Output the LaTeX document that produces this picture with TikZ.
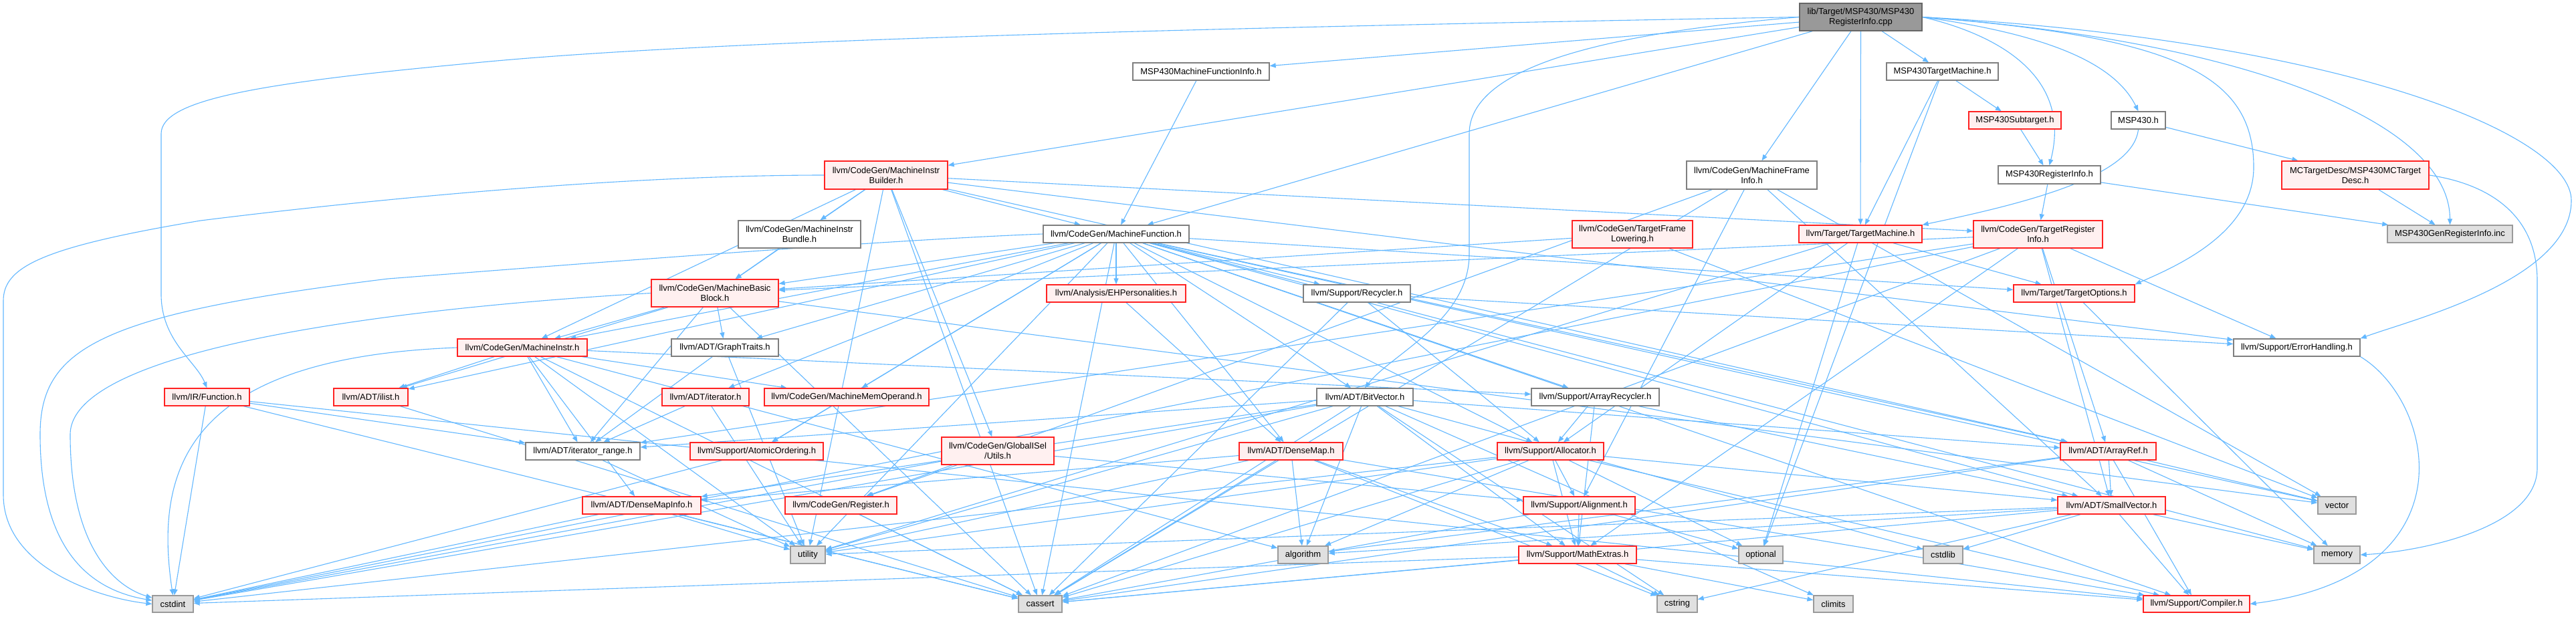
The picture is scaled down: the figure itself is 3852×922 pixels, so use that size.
\documentclass[tikz,border=0pt]{standalone}
\usepackage{fontspec}
\setmainfont{Liberation Sans}
\usetikzlibrary{arrows.meta}
\definecolor{eb}{HTML}{63B8FF}
\definecolor{redb}{HTML}{FF2222}
\definecolor{redf}{HTML}{FFF0F0}
\definecolor{grayb}{HTML}{7F7F7F}
\definecolor{sysb}{HTML}{9A9A9A}
\definecolor{sysf}{HTML}{E0E0E0}
\definecolor{rootb}{HTML}{666666}
\definecolor{rootf}{HTML}{999999}
\pgfdeclarelayer{back}
\pgfdeclarelayer{bg}
\pgfsetlayers{back,bg,main}
\newcommand\mknode[7]{\node[#1, minimum width=#5pt, minimum height=#6pt] (#2) at (#3,#4) {#7};}
\begin{document}
\begin{tikzpicture}[x=1pt,y=-1pt,
  nb/.style={draw, align=center, inner sep=0pt, font=\fontsize{13}{15}\selectfont, line width=1.3pt},
  rn/.style={nb, draw=redb, fill=redf},
  wn/.style={nb, draw=grayb, fill=white},
  sn/.style={nb, draw=sysb, fill=sysf},
  rootn/.style={nb, draw=rootb, fill=rootf},
  dep/.style={draw=eb, line width=1.1pt, -{Triangle[length=9pt,width=7pt]}},
]
\begin{pgfonlayer}{back}
\fill[white] (0,0) rectangle (3852,922);
\end{pgfonlayer}
\useasboundingbox (0,0) rectangle (3852,922);
% nodes
\mknode{rootn}{R}{2782.5}{25.5}{183}{41}{lib/Target/MSP430/MSP430\\RegisterInfo.cpp}
\mknode{wn}{MFI}{1796}{107}{204}{26}{MSP430MachineFunctionInfo.h}
\mknode{wn}{MTM}{2904.5}{107}{167}{26}{MSP430TargetMachine.h}
\mknode{rn}{MSub}{3013}{180}{138}{26}{MSP430Subtarget.h}
\mknode{wn}{M430}{3197.5}{180}{81}{26}{MSP430.h}
\mknode{rn}{MIB}{1325}{262}{184}{42}{llvm/CodeGen/MachineInstr\\Builder.h}
\mknode{wn}{MFrI}{2619.5}{262}{195}{42}{llvm/CodeGen/MachineFrame\\Info.h}
\mknode{wn}{MRI}{3064.5}{261.5}{153}{27}{MSP430RegisterInfo.h}
\mknode{rn}{MCTD}{3522}{262}{220}{42}{MCTargetDesc/MSP430MCTarget\\Desc.h}
\mknode{wn}{MIBun}{1195.5}{350.5}{183}{41}{llvm/CodeGen/MachineInstr\\Bundle.h}
\mknode{wn}{MF}{1669}{350}{218}{26}{llvm/CodeGen/MachineFunction.h}
\mknode{rn}{TFL}{2441}{350.5}{180}{41}{llvm/CodeGen/TargetFrame\\Lowering.h}
\mknode{rn}{TM}{2782}{350}{184}{26}{llvm/Target/TargetMachine.h}
\mknode{rn}{TRI}{3047.5}{350.5}{193}{41}{llvm/CodeGen/TargetRegister\\Info.h}
\mknode{sn}{Gen}{3663.5}{350}{187}{26}{MSP430GenRegisterInfo.inc}
\mknode{rn}{MBB}{1069}{438.5}{190}{41}{llvm/CodeGen/MachineBasic\\Block.h}
\mknode{rn}{EHP}{1669}{439}{208}{26}{llvm/Analysis/EHPersonalities.h}
\mknode{wn}{Rec}{2029}{439}{160}{26}{llvm/Support/Recycler.h}
\mknode{rn}{TO}{3101.5}{439}{181}{26}{llvm/Target/TargetOptions.h}
\mknode{rn}{MI}{781}{520}{194}{26}{llvm/CodeGen/MachineInstr.h}
\mknode{wn}{GT}{1084}{520}{160}{26}{llvm/ADT/GraphTraits.h}
\mknode{wn}{EH}{3434.5}{520}{189}{26}{llvm/Support/ErrorHandling.h}
\mknode{rn}{IRF}{309.5}{594}{127}{26}{llvm/IR/Function.h}
\mknode{rn}{IL}{554.5}{594}{111}{26}{llvm/ADT/ilist.h}
\mknode{rn}{It}{1055}{594}{130}{26}{llvm/ADT/iterator.h}
\mknode{rn}{MMO}{1266}{594}{246}{26}{llvm/CodeGen/MachineMemOperand.h}
\mknode{wn}{BV}{2041}{594}{144}{26}{llvm/ADT/BitVector.h}
\mknode{wn}{AR}{2385.5}{594}{191}{26}{llvm/Support/ArrayRecycler.h}
\mknode{wn}{IR}{871.5}{675}{171}{26}{llvm/ADT/iterator\_range.h}
\mknode{rn}{AO}{1131.5}{675}{199}{26}{llvm/Support/AtomicOrdering.h}
\mknode{rn}{GIU}{1492}{674.5}{168}{41}{llvm/CodeGen/GlobalISel\\/Utils.h}
\mknode{rn}{DM}{1930.5}{675}{155}{26}{llvm/ADT/DenseMap.h}
\mknode{rn}{All}{2318.5}{675}{159}{26}{llvm/Support/Allocator.h}
\mknode{rn}{ARef}{3152.5}{675}{143}{26}{llvm/ADT/ArrayRef.h}
\mknode{rn}{DMI}{959.5}{756}{177}{26}{llvm/ADT/DenseMapInfo.h}
\mknode{rn}{Reg}{1257.5}{756}{167}{26}{llvm/CodeGen/Register.h}
\mknode{rn}{Ali}{2361.5}{756}{167}{26}{llvm/Support/Alignment.h}
\mknode{rn}{SV}{3157.5}{756}{161}{26}{llvm/ADT/SmallVector.h}
\mknode{sn}{Vec}{3494.5}{756}{57}{26}{vector}
\mknode{sn}{Util}{1208}{830}{52}{26}{utility}
\mknode{sn}{Alg}{1948.5}{830}{75}{26}{algorithm}
\mknode{rn}{ME}{2359}{830}{176}{26}{llvm/Support/MathExtras.h}
\mknode{sn}{Opt}{2633}{830}{66}{26}{optional}
\mknode{sn}{CSL}{2905.5}{830}{59}{26}{cstdlib}
\mknode{sn}{Mem}{3494.5}{830}{69}{26}{memory}
\mknode{sn}{CI}{258.5}{903.5}{61}{25}{cstdint}
\mknode{sn}{CA}{1555.5}{903.5}{65}{25}{cassert}
\mknode{sn}{CS}{2508}{903.5}{60}{25}{cstring}
\mknode{sn}{CL}{2741.5}{903.5}{59}{25}{climits}
\mknode{rn}{Comp}{3284.5}{903.5}{159}{25}{llvm/Support/Compiler.h}
% edges
\begin{pgfonlayer}{bg}
\foreach \a/\b in {R/MFI, R/MIB, R/MFrI, R/MF, R/TM, R/MTM,
 MFI/MF, MTM/MSub, MTM/TM, MTM/Opt, MSub/MRI, M430/MCTD, MRI/TRI, MRI/Gen,
 MCTD/Gen,
 MIB/ARef, MIB/GIU, MIB/MBB, MIB/MF, MIB/MI, MIB/MIBun, MIB/TRI, MIB/EH, MIB/CA, MIB/Util,
 MFrI/Reg, MFrI/Ali, MFrI/SV, MFrI/CA, MFrI/Vec, MIBun/MBB,
 MF/ARef, MF/BV, MF/DM, MF/GT, MF/SV, MF/IL, MF/It, MF/EHP, MF/MBB, MF/MI, MF/MMO, MF/All,
 MF/AR, MF/AO, MF/Comp, MF/Rec, MF/TO, MF/CA, MF/Mem, MF/Util, MF/Vec,
 TFL/MBB, TFL/Vec, TM/All, TM/TO, TM/Opt, TM/Util,
 TRI/MBB, TRI/ARef, TRI/SV, TRI/IR, TRI/EH, TRI/ME, TRI/CA, TRI/CI,
 MBB/GT, MBB/IL, MBB/IR, MBB/MI, MBB/CA, MBB/Vec, EHP/DM, Rec/All, Rec/EH, Rec/CA, TO/Mem,
 MI/DMI, MI/IL, MI/IR, MI/MMO, MI/AR, MI/Alg, MI/CA, MI/Util, GT/IR, GT/Util,
 IRF/IR, IRF/CA, IRF/CI, IRF/Comp, IL/CA, It/IR, It/Util, MMO/AO,
 BV/ARef, BV/DMI, BV/IR, BV/ME, BV/Alg, BV/CA, BV/CL, BV/CI, BV/CSL, BV/CS, BV/Util,
 AR/SV, AR/All, AR/ME, IR/Util, AO/CI, GIU/Reg, GIU/Ali, GIU/CI,
 DM/DMI, DM/ME, DM/Alg, DM/CA, DM/CS, DM/Util, DM/Comp,
 All/SV, All/Ali, All/ME, All/Comp, All/Alg, All/CA, All/CI, All/Opt, All/Util,
 ARef/SV, ARef/Comp, ARef/Alg, ARef/CA, ARef/Mem, ARef/Vec,
 DMI/CA, DMI/CI, DMI/Util, Reg/CA, Ali/ME, Ali/CA, Ali/Opt,
 SV/Comp, SV/Alg, SV/CA, SV/CSL, SV/CS, SV/Mem, SV/Util,
 ME/Comp, ME/CL, ME/CI, ME/CS, ME/CA}
 {\draw[dep] (\a) -- (\b);}
% routed edges
\draw[dep] (R.west) .. controls (1600,45) and (1000,65) .. (700,95) .. controls (380,125) and (241,150) .. (241,200) -- (241,440) .. controls (241,510) and (293,540) .. (IRF.north);
\draw[dep] (R.west) .. controls (2400,50) and (2197,100) .. (2197,200) -- (2197,380) .. controls (2197,480) and (2080,530) .. (BV.north);
\draw[dep] (R.east) .. controls (2980,50) and (3100,110) .. (MRI.north);
\draw[dep] (R.east) .. controls (3050,50) and (3160,90) .. (M430.north);
\draw[dep] (R.east) .. controls (3250,55) and (3370,110) .. (3370,250) .. controls (3370,350) and (3250,400) .. (TO.north east);
\draw[dep] (R.east) .. controls (3350,60) and (3663,180) .. (Gen.north);
\draw[dep] (R.east) .. controls (3500,60) and (3845,200) .. (3845,300) .. controls (3845,420) and (3600,480) .. (EH.north east);
\draw[dep] (M430.south) .. controls (3190,260) and (3050,300) .. (TM.north east);
\draw[dep] (MCTD.east) .. controls (3720,275) and (3794,320) .. (3794,420) -- (3794,700) .. controls (3794,790) and (3620,825) .. (Mem.east);
\draw[dep] (EH.south east) .. controls (3640,600) and (3700,860) .. (Comp.east);
\draw[dep] (MIB.west) .. controls (900,262) and (500,305) .. (300,330) .. controls (60,370) and (5,400) .. (5,450) -- (5,740) .. controls (5,850) and (150,895) .. (CI.west);
\draw[dep] (MF.west) .. controls (1300,360) and (800,400) .. (580,417) .. controls (150,470) and (60,520) .. (60,650) .. controls (60,840) and (150,885) .. (CI);
\draw[dep] (MBB.west) .. controls (600,460) and (105,520) .. (105,650) .. controls (105,830) and (180,880) .. (CI);
\draw[dep] (MI.west) .. controls (280,535) and (230,700) .. (CI.north);
\end{pgfonlayer}
\end{tikzpicture}
\end{document}
